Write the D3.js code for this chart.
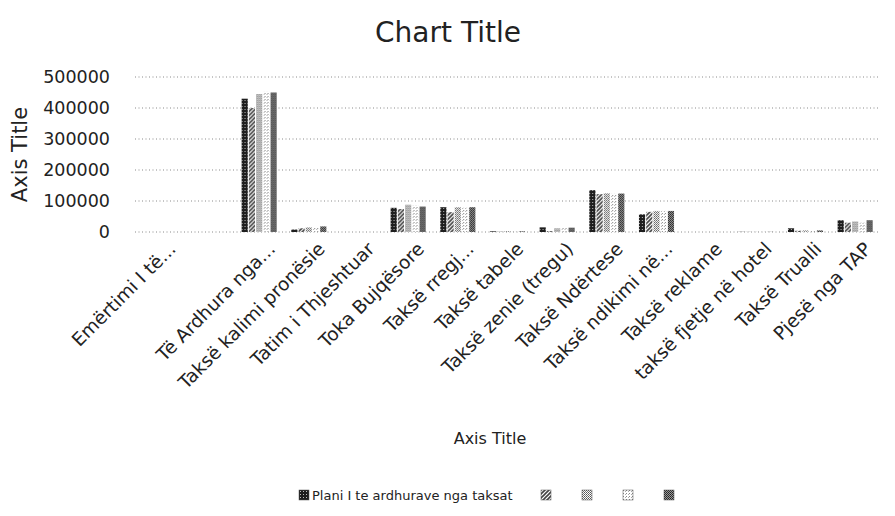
<!DOCTYPE html>
<html>
<head>
<meta charset="utf-8">
<script src="https://cdn.jsdelivr.net/npm/d3@7"></script>
<style>
  body { margin: 0; background: #fff; }
  svg { display: block; font-family: "DejaVu Sans", sans-serif; }
  .grid line { stroke: #8a8a8a; stroke-dasharray: 1 2.5; }
  .tick text { fill: #222; }
</style>
</head>
<body>
<div id="root"></div>
<script>
const width = 895;
const height = 516;

// categories (one row has no label in the sheet)
const categories = [
    "Emërtimi I të...", "", "Të Ardhura nga...", "Taksë kalimi pronësie",
    "Tatim i Thjeshtuar", "Toka Bujqësore", "Taksë rregj...", "Taksë tabele",
    "Taksë zenie (tregu)", "Taksë Ndërtese", "Taksë ndikimi në...", "Taksë reklame",
    "taksë fjetje në hotel", "Taksë Trualli", "Pjesë nga TAP"
];

// five series, values
const series1 = [0, 0, 430000, 8000, 0, 78000, 80000, 2000, 15000, 135000, 57000, 0, 500, 12000, 38000];
const series2 = [0, 0, 400000, 12000, 0, 74000, 64000, 1000, 3000, 122000, 65000, 0, 500, 4000, 30000];
const series3 = [0, 0, 445000, 15000, 0, 88000, 80000, 3000, 12000, 125000, 68000, 0, 500, 5000, 34000];
const series4 = [0, 0, 452000, 13000, 0, 85000, 78000, 1000, 15000, 123000, 68000, 0, 500, 3000, 30000];
const series5 = [0, 0, 450000, 18000, 0, 82000, 80000, 2000, 14000, 124000, 68000, 0, 500, 5000, 38000];

const seriesNames = ["Plani I te ardhurave nga taksat", "", "", "", ""];
const yTicks = [0, 100000, 200000, 300000, 400000, 500000];

const allSeries = [series1, series2, series3, series4, series5];
const keys = d3.range(allSeries.length);
const rows = categories.map((c, i) => ({ cat: i, values: allSeries.map(s => s[i]) }));

const margin = { left: 135, right: 15, top: 77, bottom: 284 };

const svg = d3.select("#root")
    .append("svg")
    .attr("width", width)
    .attr("height", height);

// grayscale fill patterns, like the printed Excel chart
const defs = svg.append("defs");
function pattern(id, size, bg, draw) {
    const p = defs.append("pattern")
        .attr("id", id)
        .attr("patternUnits", "userSpaceOnUse")
        .attr("width", size)
        .attr("height", size);
    p.append("rect").attr("width", size).attr("height", size).attr("fill", bg);
    draw(p);
}
pattern("p0", 3, "#1e1e1e", p => {
    p.append("rect").attr("x", 1).attr("y", 1).attr("width", 1).attr("height", 1).attr("fill", "#bbb");
});
pattern("p1", 4, "#fff", p => {
    p.append("path").attr("d", "M0,4L4,0M-1,1L1,-1M3,5L5,3").attr("stroke", "#444").attr("stroke-width", 1.6);
});
pattern("p2", 2, "#fff", p => {
    p.append("rect").attr("width", 1).attr("height", 1).attr("fill", "#555");
    p.append("rect").attr("x", 1).attr("y", 1).attr("width", 1).attr("height", 1).attr("fill", "#777");
});
pattern("p3", 3, "#fff", p => {
    p.append("rect").attr("width", 1).attr("height", 1).attr("fill", "#888");
    p.append("rect").attr("x", 2).attr("y", 1).attr("width", 1).attr("height", 1).attr("fill", "#aaa");
});
pattern("p4", 2, "#9a9a9a", p => {
    p.append("rect").attr("width", 1).attr("height", 1).attr("fill", "#222");
    p.append("rect").attr("x", 1).attr("y", 1).attr("width", 1).attr("height", 1).attr("fill", "#333");
});

const x0 = d3.scaleBand()
    .domain(d3.range(categories.length))
    .range([margin.left, width - margin.right])
    .paddingInner(0.25)
    .paddingOuter(0.125);

const x1 = d3.scaleBand()
    .domain(keys)
    .range([0, x0.bandwidth()])
    .padding(0.15);

const y = d3.scaleLinear()
    .domain([0, 500000])
    .range([height - margin.bottom, margin.top]);

// gridlines
svg.append("g")
    .attr("class", "grid")
    .selectAll("line")
    .data(yTicks)
    .join("line")
    .attr("x1", margin.left)
    .attr("x2", width - margin.right)
    .attr("y1", d => y(d))
    .attr("y2", d => y(d));

// y axis
const yAxis = svg.append("g")
    .attr("transform", `translate(${margin.left - 25},0)`)
    .call(d3.axisLeft(y).tickValues(yTicks).tickFormat(d3.format("d")).tickSize(0).tickPadding(0));
yAxis.select(".domain").remove();
yAxis.selectAll("text").attr("font-size", 17.5).attr("font-family", "DejaVu Sans");

// bars
svg.append("g")
    .selectAll("g")
    .data(rows)
    .join("g")
    .attr("transform", d => `translate(${x0(d.cat)},0)`)
    .selectAll("rect")
    .data(d => d.values.map((v, k) => ({ k, v })))
    .join("rect")
    .attr("x", d => x1(d.k))
    .attr("width", x1.bandwidth())
    .attr("y", d => y(d.v))
    .attr("height", d => y(0) - y(d.v))
    .attr("fill", d => `url(#p${d.k})`);

// x axis labels, rotated
const xAxis = svg.append("g")
    .attr("transform", `translate(0,${y(0) + 9})`)
    .call(d3.axisBottom(x0).tickFormat(i => categories[i]).tickSize(0).tickPadding(0));
xAxis.select(".domain").remove();
xAxis.selectAll("text")
    .attr("font-size", 18.5)
    .attr("font-family", "DejaVu Sans")
    .attr("text-anchor", "end")
    .attr("dy", "0.7em")
    .attr("transform", "translate(8,0) rotate(-45)");

// titles
svg.append("text")
    .attr("x", 448)
    .attr("y", 42)
    .attr("text-anchor", "middle")
    .attr("font-size", 28)
    .attr("fill", "#222")
    .text("Chart Title");

svg.append("text")
    .attr("transform", `translate(27,${(y(0) + y(500000)) / 2}) rotate(-90)`)
    .attr("text-anchor", "middle")
    .attr("font-size", 21)
    .attr("fill", "#222")
    .text("Axis Title");

svg.append("text")
    .attr("x", 490)
    .attr("y", 444)
    .attr("text-anchor", "middle")
    .attr("font-size", 16)
    .attr("fill", "#222")
    .text("Axis Title");

// legend
const legendX = [299, 541, 582, 623, 664];
const legend = svg.append("g")
    .selectAll("g")
    .data(keys)
    .join("g")
    .attr("transform", k => `translate(${legendX[k]},490)`);
legend.append("rect")
    .attr("width", 10)
    .attr("height", 10)
    .attr("fill", k => `url(#p${k})`)
    .attr("stroke", "#555")
    .attr("stroke-width", 0.5);
legend.append("text")
    .attr("x", 13)
    .attr("y", 10)
    .attr("font-size", 13)
    .attr("fill", "#222")
    .text(k => seriesNames[k]);
</script>
</body>
</html>
